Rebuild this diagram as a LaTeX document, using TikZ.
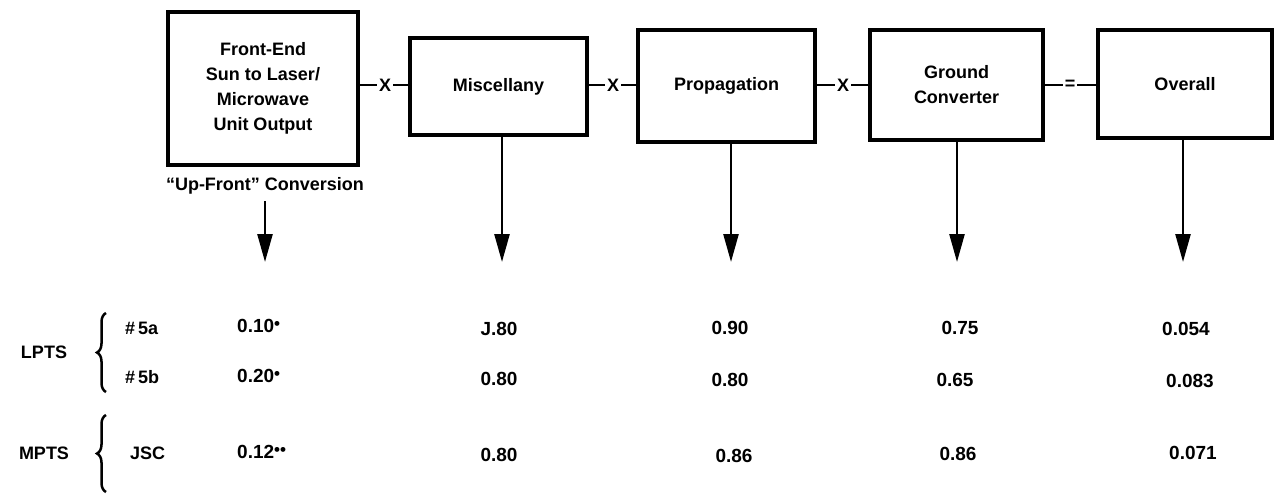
\documentclass[tikz,border=0pt]{standalone}
\usepackage{fontspec}
\setmainfont{Liberation Sans}
\usetikzlibrary{arrows.meta,decorations.pathreplacing}
\newcommand{\stardot}{\raisebox{0.35ex}{\fontsize{17}{17}\selectfont•}}
\tikzset{
  blk/.style={draw, line width=3.5pt, inner sep=0pt, align=center, font=\bfseries\fontsize{18}{25}\selectfont},
  lbl/.style={inner sep=0pt, font=\bfseries\fontsize{18}{22}\selectfont},
  num/.style={inner sep=0pt, font=\bfseries\fontsize{19}{22}\selectfont},
  link/.style={line width=2.5pt},
  down/.style={line width=2.5pt, -{Triangle[length=28pt,width=15pt]}},
  brc/.style={line width=2.5pt, decorate, decoration={brace, amplitude=9pt}}
}
\begin{document}
\begin{tikzpicture}[x=1pt,y=-1pt]
\useasboundingbox (0,0) rectangle (1276,496);
% blocks
\node[blk, minimum width=190pt, minimum height=153pt] (b1) at (263,88.5) {Front-End\\Sun to Laser/\\Microwave\\Unit Output};
\node[blk, minimum width=177pt, minimum height=97pt] (b2) at (498.5,86.5) {Miscellany};
\node[blk, minimum width=177pt, minimum height=112pt] (b3) at (726.5,86) {Propagation};
\node[blk, minimum width=173pt, minimum height=110pt] (b4) at (956.5,85) {Ground\\Converter};
\node[blk, minimum width=174pt, minimum height=108pt] (b5) at (1185,84) {Overall};
% operators
\node[lbl, fill=white, inner sep=2pt] (x1) at (385,85) {X};
\node[lbl, fill=white, inner sep=2pt] (x2) at (613,85) {X};
\node[lbl, fill=white, inner sep=2pt] (x3) at (843,85) {X};
\node[lbl, fill=white, inner sep=2pt] (eq) at (1070,85) {=};
\draw[link] (b1.east |- x1) -- (x1.west);
\draw[link] (x1.east) -- (b2.west |- x1);
\draw[link] (b2.east |- x2) -- (x2.west);
\draw[link] (x2.east) -- (b3.west |- x2);
\draw[link] (b3.east |- x3) -- (x3.west);
\draw[link] (x3.east) -- (b4.west |- x3);
\draw[link] (b4.east |- eq) -- (eq.west);
\draw[link] (eq.east) -- (b5.west |- eq);
% up-front label
\node[lbl] (uf) at (265,186) {“Up-Front” Conversion};
% arrow ends
\coordinate (t1) at (265,262);
\coordinate (t2) at (502,262);
\coordinate (t3) at (731,262);
\coordinate (t4) at (957,262);
\coordinate (t5) at (1183,262);
\draw[down] (265,201) -- (t1);
\draw[down] (b2.south -| t2) -- (t2);
\draw[down] (b3.south -| t3) -- (t3);
\draw[down] (b4.south -| t4) -- (t4);
\draw[down] (b5.south -| t5) -- (t5);
% row labels
\node[lbl] (lpts) at (44,352) {LPTS};
\node[lbl] (mpts) at (44,453) {MPTS};
\coordinate (lb1) at (106,392);
\coordinate (lb2) at (106,313);
\coordinate (mb1) at (106,492);
\coordinate (mb2) at (106,415);
\draw[brc] (lb1) -- (lb2);
\draw[brc] (mb1) -- (mb2);
\node[lbl, anchor=west] (r1) at (125,328) {\#\,5a};
\node[lbl, anchor=west] (r2) at (125,377) {\#\,5b};
\node[lbl, anchor=west] (r3) at (130,453) {JSC};
% column 1
\node[num, anchor=west] (v11) at (237,326) {0.10\stardot};
\node[num, anchor=west] (v21) at (237,376) {0.20\stardot};
\node[num, anchor=west] (v31) at (237,452) {0.12\stardot\stardot};
% columns 2-5
\node[num] (v12) at (499,329) {J.80};
\node[num] (v22) at (499,379) {0.80};
\node[num] (v32) at (499,455) {0.80};
\node[num] (v13) at (730,328) {0.90};
\node[num] (v23) at (730,380) {0.80};
\node[num] (v33) at (734,456) {0.86};
\node[num] (v14) at (960,328) {0.75};
\node[num] (v24) at (955,380) {0.65};
\node[num] (v34) at (958,454) {0.86};
\node[num] (v15) at (1186,329) {0.054};
\node[num] (v25) at (1190,381) {0.083};
\node[num] (v35) at (1193,453) {0.071};
\end{tikzpicture}
\end{document}
